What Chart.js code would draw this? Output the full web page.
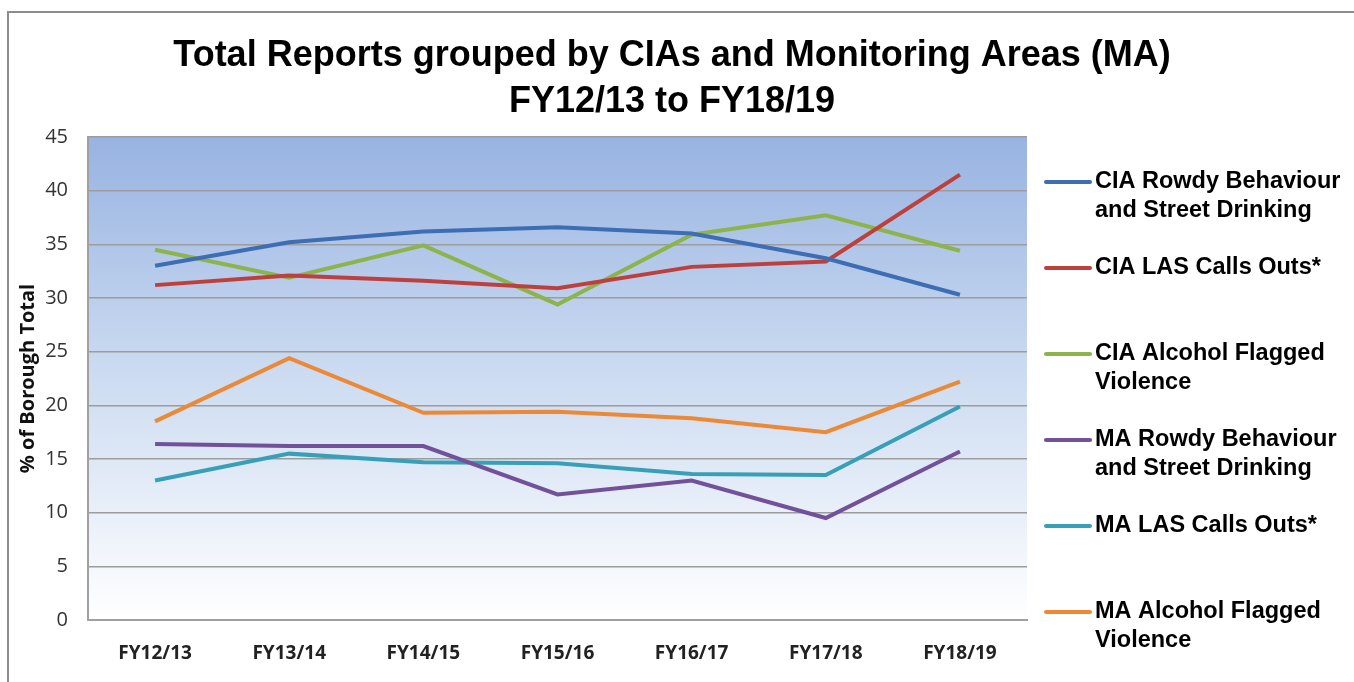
<!DOCTYPE html>
<html lang="en">
<head>
  <meta charset="UTF-8" />
  <title>Total Reports grouped by CIAs and Monitoring Areas (MA)</title>
  <script src="https://cdn.jsdelivr.net/npm/chart.js"></script>
  <style>
    html, body { margin: 0; padding: 0; background: #fff; }
    #wrap { width: 1354px; height: 682px; position: relative; }
  </style>
</head>
<body>
  <div id="wrap"><canvas id="reportChart"></canvas></div>

  <script>
    // data
    const years = ["FY12/13", "FY13/14", "FY14/15", "FY15/16", "FY16/17", "FY17/18", "FY18/19"];
    const yTicks = [0, 5, 10, 15, 20, 25, 30, 35, 40, 45];

    const ciaRowdy   = [33.0, 35.2, 36.2, 36.6, 36.0, 33.7, 30.3];
    const ciaLas     = [31.2, 32.1, 31.6, 30.9, 32.9, 33.4, 41.5];
    const ciaAlcohol = [34.5, 31.9, 34.9, 29.4, 35.9, 37.7, 34.4];
    const maRowdy    = [16.4, 16.2, 16.2, 11.7, 13.0, 9.5, 15.7];
    const maLas      = [13.0, 15.5, 14.7, 14.6, 13.6, 13.5, 19.9];
    const maAlcohol  = [18.5, 24.4, 19.3, 19.4, 18.8, 17.5, 22.2];

    const seriesNames = [
      ["CIA Rowdy Behaviour", "and Street Drinking"],
      ["CIA LAS Calls Outs*"],
      ["CIA Alcohol Flagged", "Violence"],
      ["MA Rowdy Behaviour", "and Street Drinking"],
      ["MA LAS Calls Outs*"],
      ["MA Alcohol Flagged", "Violence"]
    ];
    const seriesData = [ciaRowdy, ciaLas, ciaAlcohol, maRowdy, maLas, maAlcohol];
    const seriesColors = ["#3d6db3", "#be403d", "#8cb44a", "#72509a", "#37a0b8", "#ec8936"];

    const titleLines = ["Total Reports grouped by CIAs and Monitoring Areas (MA)", "FY12/13 to FY18/19"];

    // frame, plot background gradient
    const backdrop = {
      id: "backdrop",
      beforeDraw(chart) {
        const { ctx, chartArea: a } = chart;
        ctx.save();
        const g = ctx.createLinearGradient(0, a.top, 0, a.bottom);
        g.addColorStop(0, "#98b3e2");
        g.addColorStop(0.5, "#cddcf1");
        g.addColorStop(1, "#ffffff");
        ctx.fillStyle = g;
        ctx.fillRect(a.left, a.top, a.right - a.left, a.bottom - a.top);

        ctx.strokeStyle = "#8c8c8c";
        ctx.lineWidth = 2;
        ctx.beginPath();
        ctx.moveTo(8, 682);
        ctx.lineTo(8, 12);
        ctx.lineTo(1354, 12);
        ctx.stroke();
        ctx.restore();
      },
      afterDraw(chart) {
        const { ctx } = chart;
        ctx.save();
        // title
        ctx.fillStyle = "#000";
        ctx.textAlign = "center";
        ctx.textBaseline = "middle";
        ctx.font = "bold 36px 'Liberation Sans', Arial, sans-serif";
        ctx.fillText(titleLines[0], 672, 56);
        ctx.fillText(titleLines[1], 672, 102);

        // legend on the right
        ctx.textAlign = "left";
        ctx.font = "bold 23.5px 'Liberation Sans', Arial, sans-serif";
        chart.data.datasets.forEach((ds, i) => {
          const y = 182 + i * 86;
          ctx.strokeStyle = ds.borderColor;
          ctx.lineWidth = 4;
          ctx.lineCap = "round";
          ctx.beginPath();
          ctx.moveTo(1046, y);
          ctx.lineTo(1090, y);
          ctx.stroke();
          ctx.fillStyle = "#000";
          seriesNames[i].forEach((line, j) => ctx.fillText(line, 1095, y + j * 29));
        });
        ctx.restore();
      }
    };

    const ctx = document.getElementById("reportChart").getContext("2d");

    new Chart(ctx, {
      type: "line",
      data: {
        labels: years,
        datasets: seriesData.map((d, i) => ({
          label: seriesNames[i].join(" "),
          data: d,
          borderColor: seriesColors[i],
          backgroundColor: seriesColors[i],
          borderWidth: 4,
          pointRadius: 0,
          tension: 0,
          fill: false
        }))
      },
      options: {
        responsive: true,
        maintainAspectRatio: false,
        animation: false,
        layout: { padding: { top: 137, right: 327, left: 0, bottom: 0 } },
        plugins: {
          legend: { display: false },
          title: { display: false },
          tooltip: { enabled: false }
        },
        scales: {
          x: {
            offset: true,
            grid: { display: false },
            border: { display: true, color: "#a0a0a0", width: 2 },
            ticks: {
              color: "#222",
              padding: 14,
              font: { family: "'Open Sans', sans-serif", size: 19, weight: "bold" }
            },
            afterFit(scale) { scale.height = 62; }
          },
          y: {
            min: 0,
            max: 45,
            afterBuildTicks(scale) { scale.ticks = yTicks.map(v => ({ value: v })); },
            grid: { color: "#9c9c9c", lineWidth: 1.5, drawTicks: false },
            border: { display: true, color: "#a0a0a0", width: 2 },
            ticks: {
              color: "#333",
              padding: 20,
              font: { family: "'Open Sans', sans-serif", size: 20 }
            },
            title: {
              display: true,
              text: "% of Borough Total",
              color: "#111",
              padding: { top: 16, bottom: 0 },
              font: { family: "'Open Sans', sans-serif", size: 20, weight: "bold" }
            },
            afterFit(scale) { scale.width = 88; }
          }
        }
      },
      plugins: [backdrop]
    });
  </script>
</body>
</html>
